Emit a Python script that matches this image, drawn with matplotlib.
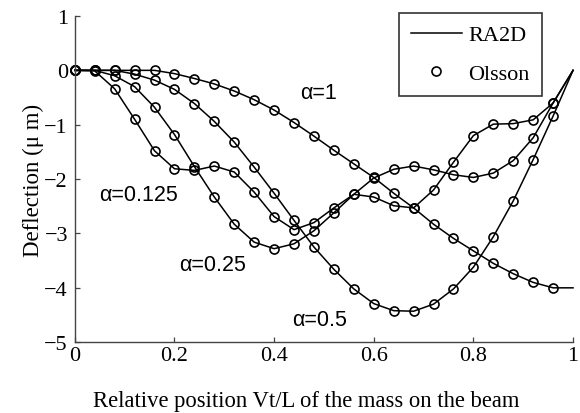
import matplotlib
matplotlib.use("Agg")
import matplotlib.pyplot as plt
import numpy as np

# marker positions Vt/L (lines also end at 1.0)
x_pts = [0.00, 0.04, 0.08, 0.12, 0.16, 0.20, 0.24, 0.28, 0.32, 0.36, 0.40, 0.44,
         0.48, 0.52, 0.56, 0.60, 0.64, 0.68, 0.72, 0.76, 0.80, 0.84, 0.88, 0.92, 0.96]
x_end = 1.0

# deflection (um)
a1 = [0, 0, 0, 0, 0, -0.06, -0.15, -0.25, -0.38, -0.54, -0.73, -0.96,
      -1.21, -1.47, -1.72, -1.97, -2.26, -2.53, -2.83, -3.09, -3.32, -3.55, -3.74, -3.90, -4.00]
a1_end = -4.0
a05 = [0, 0, 0, -0.07, -0.18, -0.35, -0.61, -0.94, -1.32, -1.78, -2.26, -2.76,
       -3.25, -3.66, -4.02, -4.29, -4.42, -4.43, -4.30, -4.02, -3.62, -3.06, -2.40, -1.64, -0.84]
a05_end = 0.0
a025 = [0, 0, -0.10, -0.30, -0.68, -1.18, -1.77, -2.33, -2.83, -3.16, -3.28, -3.19,
        -2.95, -2.62, -2.28, -1.98, -1.82, -1.76, -1.83, -1.92, -1.97, -1.89, -1.66, -1.24, -0.60]
a025_end = 0.0
a0125 = [0, -0.01, -0.34, -0.90, -1.48, -1.81, -1.84, -1.76, -1.87, -2.24, -2.69, -2.93,
         -2.80, -2.53, -2.28, -2.33, -2.49, -2.53, -2.20, -1.69, -1.20, -0.99, -0.98, -0.91, -0.60]
a0125_end = 0.0

curves = [(a1, a1_end), (a05, a05_end), (a025, a025_end), (a0125, a0125_end)]
labels = ["\u03b1=1", "\u03b1=0.5", "\u03b1=0.25", "\u03b1=0.125"]
label_pos = [(0.452, -0.40), (0.436, -4.59), (0.209, -3.57), (0.048, -2.28)]

xticks = [0, 0.2, 0.4, 0.6, 0.8, 1]
xticklabels = ["0", "0.2", "0.4", "0.6", "0.8", "1"]
yticks = [-5, -4, -3, -2, -1, 0, 1]

serif = "Liberation Serif"
sans = "Liberation Sans"

fig = plt.figure(figsize=(5.8, 4.14), dpi=100)
ax = fig.add_axes([0.129, 0.171, 0.859, 0.788])

for i, (y, yend) in enumerate(curves):
    xl = x_pts + [x_end]
    yl = y + [yend]
    ax.plot(xl, yl, color="black", lw=1.1, clip_on=False,
            label="RA2D" if i == 0 else None)
    ax.plot(x_pts, y, ls="none", marker="o", ms=6.5, mfc="none", mec="black",
            mew=1.2, clip_on=False, label="Olsson" if i == 0 else None)

for txt, (tx, ty) in zip(labels, label_pos):
    ax.text(tx, ty, txt, family=sans, fontsize=15.5, ha="left", va="center")

ax.set_xlim(0, 1)
ax.set_ylim(-5, 1)
ax.set_xticks(xticks)
ax.set_xticklabels(xticklabels)
ax.set_yticks(yticks)
for lab in ax.get_xticklabels() + ax.get_yticklabels():
    lab.set_family(serif)
    lab.set_fontsize(16)

for s in ["top", "right"]:
    ax.spines[s].set_visible(False)
for s in ["left", "bottom"]:
    ax.spines[s].set_color("#444444")
    ax.spines[s].set_linewidth(1.0)
ax.tick_params(direction="in", length=3.5, width=0.9, color="#444444")
ax.tick_params(axis="x", pad=3)
ax.tick_params(axis="y", pad=5)

ax.set_xlabel("Relative position Vt/L of the mass on the beam", family=serif, fontsize=16.3)
ax.xaxis.set_label_coords(0.464, -0.145)
ax.set_ylabel("Deflection (\u03bc m)", family=serif, fontsize=16.5)
ax.yaxis.set_label_coords(-0.062, 0.5)

leg = ax.legend(loc="upper right", bbox_to_anchor=(0.938, 1.01), prop={"family": serif, "size": 16},
                frameon=True, fancybox=False, edgecolor="black", handlelength=2.3,
                borderaxespad=0, borderpad=0.55, labelspacing=0.8, handletextpad=0.3)
leg.get_frame().set_linewidth(1.2)

fig.savefig("out.png", dpi=100)
